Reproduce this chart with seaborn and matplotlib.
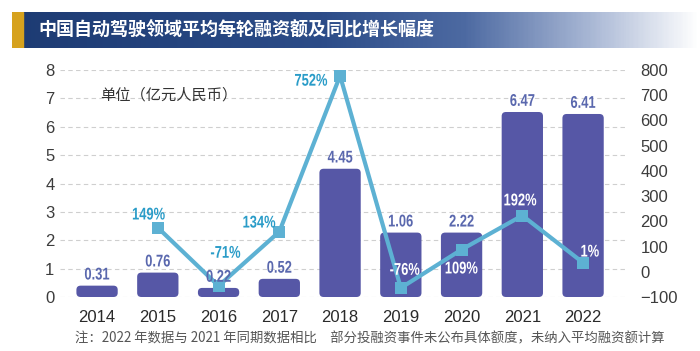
import numpy as np
import pandas as pd
import matplotlib.pyplot as plt
import seaborn as sns
from matplotlib.patches import FancyBboxPatch, Rectangle, PathPatch
from matplotlib.colors import LinearSegmentedColormap
from matplotlib.textpath import TextPath
from matplotlib.font_manager import FontProperties
from matplotlib.transforms import Affine2D, IdentityTransform

# values (bar heights as drawn, labels as printed)
years = ['2014', '2015', '2016', '2017', '2018', '2019', '2020', '2021', '2022']
bar_heights = [0.40, 0.86, 0.32, 0.64, 4.52, 2.27, 2.27, 6.52, 6.45]
bar_labels = ['0.31', '0.76', '0.22', '0.52', '4.45', '1.06', '2.22', '6.47', '6.41']
growth_years = years[1:]
growth_values = [175, -56, 159, 777, -64, 88, 223, 36]
growth_labels = ['149%', '-71%', '134%', '752%', '-76%', '109%', '192%', '1%']

BAR_COLOR = '#5657a6'
LINE_COLOR = '#5db1d3'
BAR_TEXT = '#5a68ae'
PCT_TEXT = '#2a9cc8'
CJK = ['Noto Sans CJK SC', 'DejaVu Sans']

sns.set_theme(style='white')
plt.rcParams['font.family'] = ['Liberation Sans', 'Noto Sans CJK SC', 'DejaVu Sans']
plt.rcParams['axes.unicode_minus'] = True

fig = plt.figure(figsize=(7.0, 3.51), dpi=100)
fig.patch.set_facecolor('white')

# title banner with gradient
bax = fig.add_axes([12 / 700, 1 - 48 / 351, 688 / 700, 36 / 351])
cmap = LinearSegmentedColormap.from_list(
    'banner', [(0, '#1d3b73'), (0.45, '#2c4c88'), (0.66, '#4d6aa2'),
               (0.84, '#a7b6d4'), (1.0, '#ffffff')])
bax.imshow(np.linspace(0, 1, 400).reshape(1, -1), aspect='auto', cmap=cmap,
           extent=[0, 1, 0, 1])
bax.add_patch(Rectangle((0, 0), 11 / 688, 1, color='#d6a21e', transform=bax.transAxes))
bax.set_axis_off()
fig.text(38 / 700, 1 - 30 / 351, '中国自动驾驶领域平均每轮融资额及同比增长幅度',
         color='white', fontsize=13, fontweight='bold', va='center', family=CJK)

# main axes
ax = fig.add_axes([60 / 700, 1 - 297 / 351, 565 / 700, 227 / 351])
sns.barplot(x=years, y=bar_heights, color=BAR_COLOR, saturation=1, width=0.68, ax=ax)

# swap plain bars for slightly rounded ones
for p in list(ax.patches):
    x0, y0, w, h = p.get_x(), p.get_y(), p.get_width(), p.get_height()
    p.remove()
    ax.add_patch(FancyBboxPatch((x0, y0), w, h,
                                boxstyle='round,pad=0,rounding_size=0.07',
                                mutation_aspect=2.1, facecolor=BAR_COLOR,
                                edgecolor='none', zorder=2))

ax.set_xlim(-0.61, 8.69)
ax.set_ylim(0, 8)
ax.set_yticks(range(0, 9))
ax.yaxis.grid(True, linestyle=(0, (4, 3)), color='#cfcfcf', linewidth=0.8)
ax.set_axisbelow(True)
for s in ax.spines.values():
    s.set_visible(False)
ax.tick_params(axis='y', length=0, pad=4, labelsize=12, labelcolor='#3c3c3c')
ax.tick_params(axis='x', length=0, pad=9, labelsize=12, labelcolor='#2a2a2a')
ax.set_xlabel('')
ax.set_ylabel('')

# growth line on the right axis
ax2 = ax.twinx()
gx = [years.index(y) for y in growth_years]
sns.lineplot(x=gx, y=growth_values, ax=ax2, color=LINE_COLOR, linewidth=3,
             marker='s', markersize=9, markeredgewidth=0, zorder=4)
ax2.set_ylim(-100, 800)
ax2.set_yticks(range(-100, 801, 100))
ax2.set_xlim(-0.61, 8.69)
for s in ax2.spines.values():
    s.set_visible(False)
ax2.tick_params(axis='y', length=0, pad=11, labelsize=12, labelcolor='#3c3c3c')
ax2.set_ylabel('')
ax2.grid(False)

# condensed bold labels: text outlines squeezed horizontally
num_font = FontProperties(family='Liberation Sans', weight='bold')


def narrow_label(axis, x, y, s, dx, dy, color, z, size=17, squeeze=0.76):
    px, py = axis.transData.transform((x, y))
    tp = TextPath((0, 0), s, size=size, prop=num_font)
    ext = tp.get_extents()
    cx = (ext.x0 + ext.x1) / 2
    cy = (ext.y0 + ext.y1) / 2
    tr = Affine2D().translate(-cx, -cy).scale(squeeze, 1).translate(px + dx, py + dy)
    patch = PathPatch(tr.transform_path(tp), facecolor=color, edgecolor='none',
                      transform=IdentityTransform(), zorder=z)
    fig.add_artist(patch)


for i, (h, lab) in enumerate(zip(bar_heights, bar_labels)):
    narrow_label(ax, i, h, lab, 0, 12, BAR_TEXT, 3)

offsets = [(-9, 14), (7, 34), (-20, 10), (-29, -4), (4, 19), (0, -18), (-2, 16), (7, 12)]
colors = [PCT_TEXT, PCT_TEXT, PCT_TEXT, PCT_TEXT, 'white', 'white', 'white', 'white']
for xi, v, lab, off, c in zip(gx, growth_values, growth_labels, offsets, colors):
    narrow_label(ax2, xi, v, lab, off[0], off[1], c, 5)

fig.text(100 / 700, 1 - 95 / 351, '单位（亿元人民币）', fontsize=11,
         color='#333333', va='center', family=CJK)
fig.text(75 / 700, 1 - 338 / 351,
         '注：2022 年数据与 2021 年同期数据相比　部分投融资事件未公布具体额度，未纳入平均融资额计算',
         fontsize=9.6, color='#555555', va='center', family=CJK)

fig.savefig('out.png', dpi=100)
